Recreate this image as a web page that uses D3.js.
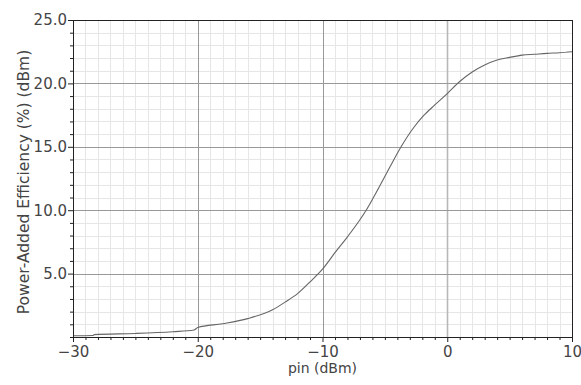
<!DOCTYPE html>
<html><head><meta charset="utf-8">
<script src="https://cdn.jsdelivr.net/npm/d3@7"></script>
<style>
html,body{margin:0;padding:0;background:#fff;}
text{font-family:"DejaVu Sans",sans-serif;}
</style></head>
<body><svg id="c" width="581" height="385"></svg>
<script>
const pin = [-30, -28.4, -28.3, -25, -22, -20.3, -20, -18, -16, -14, -13, -12, -11, -10, -9, -8, -7, -6.5, -6, -5.5, -4.6, -3.7, -2.7, -1.9, -1, 0, 1, 2, 3, 4, 5, 6, 7, 8, 9, 10];
const pae = [0.1, 0.12, 0.19, 0.28, 0.42, 0.55, 0.75, 1.05, 1.45, 2.15, 2.75, 3.42, 4.35, 5.35, 6.65, 7.9, 9.25, 10.0, 10.85, 11.75, 13.4, 15.0, 16.5, 17.45, 18.3, 19.2, 20.15, 20.9, 21.45, 21.84, 22.05, 22.23, 22.3, 22.37, 22.42, 22.5];
const xTicks = [-30, -20, -10, 0, 10];
const yTicks = [5, 10, 15, 20, 25];
const xLabel = "pin (dBm)";
const yLabel = "Power-Added Efficiency (%) (dBm)";

const W = 581, H = 385;
const m = {l: 73, t: 20, r: 9, b: 48};
const svg = d3.select("#c");
const x = d3.scaleLinear().domain([-30, 10]).range([m.l, W - m.r]);
const y = d3.scaleLinear().domain([0, 25]).range([H - m.b, m.t]);

const g = svg.append("g");
// minor grid
g.selectAll(".mx").data(d3.range(-30, 11, 1)).join("line")
  .attr("x1", d => Math.round(x(d)) + 0.5).attr("x2", d => Math.round(x(d)) + 0.5)
  .attr("y1", y(0)).attr("y2", y(25)).attr("stroke", "#e6e6e6").attr("stroke-width", 1);
g.selectAll(".my").data(d3.range(0, 26, 1)).join("line")
  .attr("y1", d => Math.round(y(d)) + 0.5).attr("y2", d => Math.round(y(d)) + 0.5)
  .attr("x1", x(-30)).attr("x2", x(10)).attr("stroke", "#e6e6e6").attr("stroke-width", 1);
// major grid
g.selectAll(".Mx").data([-20, -10, 0]).join("line")
  .attr("x1", d => Math.round(x(d)) + 0.5).attr("x2", d => Math.round(x(d)) + 0.5)
  .attr("y1", y(0)).attr("y2", y(25)).attr("stroke", d => d === 0 ? "#b8b8b8" : "#999").attr("stroke-width", d => d === 0 ? 1.6 : 1);
g.selectAll(".My").data([5, 10, 15, 20]).join("line")
  .attr("y1", d => Math.round(y(d)) + 0.5).attr("y2", d => Math.round(y(d)) + 0.5)
  .attr("x1", x(-30)).attr("x2", x(10)).attr("stroke", "#999").attr("stroke-width", 1);

// curve
const line = d3.line().x((d, i) => x(pin[i])).y((d, i) => y(pae[i])).curve(d3.curveMonotoneX);
svg.append("path").attr("d", line(pae)).attr("fill", "none").attr("stroke", "#666").attr("stroke-width", 1.1);

// axes
const xAxis = d3.axisBottom(x).tickValues(xTicks).tickFormat(d3.format("d")).tickSize(5).tickPadding(4);
const xMinor = d3.axisBottom(x).tickValues(d3.range(-30, 11, 1).filter(d => !xTicks.includes(d))).tickFormat("").tickSize(3);
const yAxis = d3.axisLeft(y).tickValues(yTicks).tickFormat(d3.format(".1f")).tickSize(5).tickPadding(1);
const yMinor = d3.axisLeft(y).tickValues(d3.range(0, 26, 1).filter(d => !yTicks.includes(d))).tickFormat("").tickSize(3);

function style(sel) {
  sel.select(".domain").remove();
  sel.selectAll("line").attr("stroke", "#222");
  sel.selectAll("text").attr("fill", "#444").style("font-size", "15px").style("font-family", "DejaVu Sans, sans-serif");
}
svg.append("g").attr("transform", `translate(0,${y(0)})`).call(xAxis).call(style);
svg.append("g").attr("transform", `translate(0,${y(0)})`).call(xMinor).call(style);
svg.append("g").attr("transform", `translate(${x(-30)},0)`).call(yAxis).call(style);
svg.append("g").attr("transform", `translate(${x(-30)},0)`).call(yMinor).call(style);

// frame
svg.append("rect").attr("x", x(-30) + 0.5).attr("y", y(25) + 0.5)
  .attr("width", x(10) - x(-30)).attr("height", y(0) - y(25))
  .attr("fill", "none").attr("stroke", "#222").attr("stroke-width", 1);

svg.append("text").attr("x", (x(-30) + x(10)) / 2).attr("y", 373).attr("text-anchor", "middle")
  .attr("fill", "#444").style("font-size", "14px").text(xLabel);
svg.append("text").attr("transform", `translate(29,182) rotate(-90)`).attr("text-anchor", "middle")
  .attr("fill", "#444").style("font-size", "15.5px").text(yLabel);
</script></body></html>
